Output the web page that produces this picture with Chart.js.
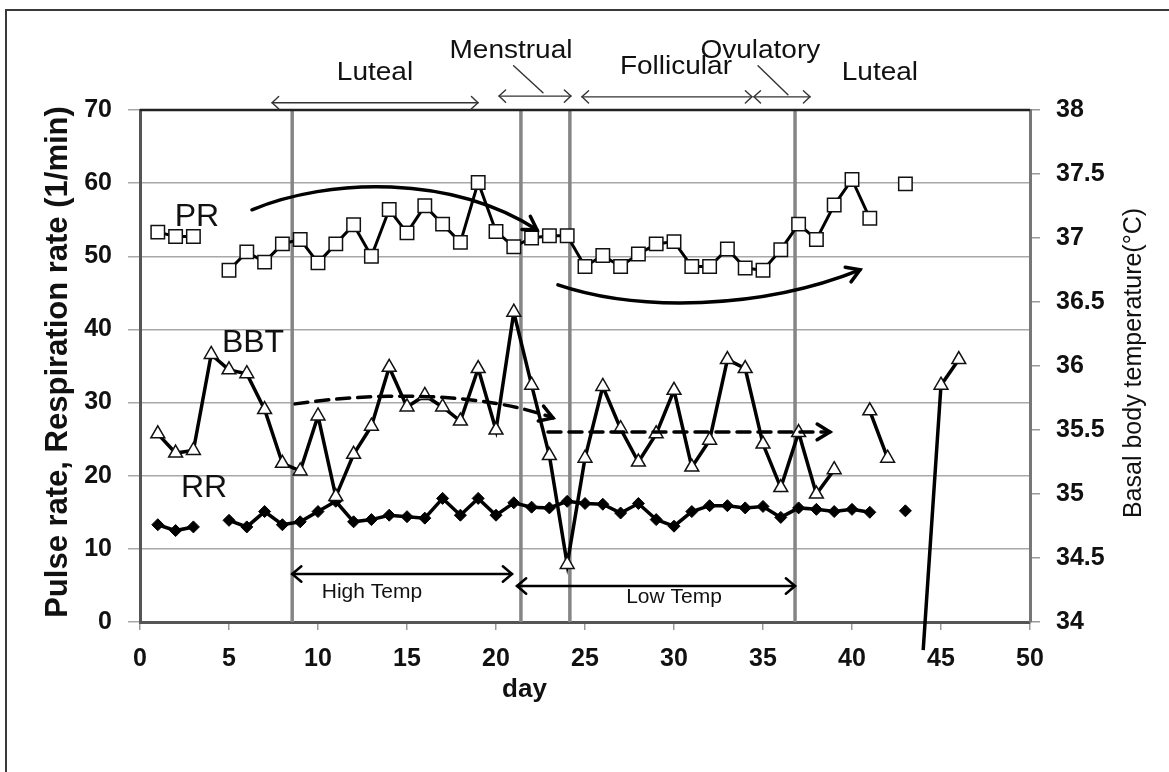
<!DOCTYPE html>
<html>
<head>
<meta charset="utf-8">
<script src="https://cdn.jsdelivr.net/npm/chart.js@4.4.1/dist/chart.umd.min.js"></script>
<style>
  html, body { margin: 0; padding: 0; background: #fff; overflow: hidden; }
  #wrap { position: relative; width: 1169px; height: 772px; }
  #frame { position: absolute; left: 5px; top: 9px; width: 1220px; height: 820px; border: 2px solid #3a3a3a; box-sizing: border-box; }
  canvas { position: absolute; left: 0; top: 0; }
</style>
</head>
<body>
<div id="wrap">
  <div id="frame"></div>
  <canvas id="chart" width="1169" height="772"></canvas>
</div>
<script>
// ---- data ----
const days = [1, 2, 3, 4, 5, 6, 7, 8, 9, 10, 11, 12, 13, 14, 15, 16, 17, 18, 19, 20, 21, 22, 23,
  24, 25, 26, 27, 28, 29, 30, 31, 32, 33, 34, 35, 36, 37, 38, 39, 40, 41, 42, 43, 44, 45, 46];

// pulse rate (1/min), left axis
const prRate = [53.3, 52.7, 52.7, null, 48.1, 50.6, 49.2, 51.7, 52.3, 49.1, 51.7, 54.3, 50.0, 56.4,
  53.2, 56.9, 54.4, 51.9, 60.1, 53.4, 51.3, 52.5, 52.8, 52.8, 48.6, 50.1, 48.6, 50.3, 51.7, 52.0,
  48.6, 48.6, 51.0, 48.4, 48.1, 50.9, 54.4, 52.3, 57.0, 60.5, 55.2, null, 59.9, null, null, null];

// basal body temperature (deg C), right axis
const bbtTemp = [35.47, 35.32, 35.34, 36.09, 35.97, 35.94, 35.66, 35.24, 35.18, 35.61, 34.98, 35.31,
  35.53, 35.99, 35.68, 35.77, 35.68, 35.57, 35.98, 35.50, 36.42, 35.85, 35.30, 34.45, 35.28, 35.84,
  35.51, 35.25, 35.47, 35.81, 35.21, 35.42, 36.05, 35.98, 35.39, 35.05, 35.48, 35.00, 35.19, null,
  35.65, 35.28, null, 33.78, 35.85, 36.05];

// respiration rate (1/min), left axis
const rrRate = [13.3, 12.5, 13.0, null, 13.9, 13.0, 15.1, 13.3, 13.7, 15.1, 16.5, 13.7, 14.0, 14.6,
  14.4, 14.2, 16.9, 14.6, 16.9, 14.6, 16.3, 15.7, 15.6, 16.5, 16.2, 16.1, 14.9, 16.2, 14.0, 13.1,
  15.1, 15.9, 15.9, 15.6, 15.8, 14.3, 15.6, 15.4, 15.1, 15.4, 15.0, null, 15.2, null, null, null];

const xTicks = [0, 50, 5];        // min, max, step
const leftTicks = [0, 70, 10];
const rightTicks = [34, 38, 0.5];

// ---- annotations (day, left-axis value) ----
const phaseLines = [8.55, 21.4, 24.15, 36.8];
const phaseNames = ['Luteal', 'Menstrual', 'Follicular', 'Ovulatory', 'Luteal'];
const phaseNamePos = [[13.2, 75.1], [20.84, 78.1], [30.11, 75.8], [34.85, 78.0], [41.57, 75.1]];
const phaseSpans = [[7.42, 18.99, 71.0], [20.17, 24.21, 71.9], [24.83, 34.38, 71.8], [34.49, 37.64, 71.8]];
const phaseLeaders = [[20.99, 76.06, 22.64, 72.37], [34.72, 76.06, 36.40, 72.09]];
const tempSpans = [['High Temp', 8.55, 20.9, 6.57, 13.03, 4.1], ['Low Temp', 21.18, 36.8, 4.92, 30.0, 3.42]];
const seriesNames = [['PR', 3.2, 55.4], ['BBT', 6.35, 38.1], ['RR', 3.6, 18.3]];
const prArrowUp = [[6.29, 56.36], [10.67, 60.74], [17.42, 61.15], [22.3, 53.63]];
const prArrowDown = [[23.48, 46.1], [27.98, 42.41], [34.83, 42.68], [40.45, 48.15]];
const bbtArrowCurve = [[8.71, 29.82], [13.48, 31.46], [19.1, 31.46], [23.2, 27.91]];
const bbtArrowFlat = [22.92, 38.76, 25.99];

const pts = vals => days.map((d, i) => ({ x: d, y: vals[i] }));

function head(ctx, x, y, ang, len, spread) {
  ctx.beginPath();
  ctx.moveTo(x - len * Math.cos(ang - spread), y - len * Math.sin(ang - spread));
  ctx.lineTo(x, y);
  ctx.lineTo(x - len * Math.cos(ang + spread), y - len * Math.sin(ang + spread));
  ctx.stroke();
}

function text(ctx, s, x, y, font, sx, rot) {
  ctx.save();
  ctx.translate(x, y);
  if (rot) ctx.rotate(rot);
  ctx.scale(sx || 1, 1);
  ctx.font = font;
  ctx.textAlign = 'center';
  ctx.textBaseline = 'middle';
  ctx.fillText(s, 0, 0);
  ctx.restore();
}

const decor = {
  id: 'decor',
  beforeDatasetsDraw(chart) {
    const { ctx, chartArea: a, scales } = chart;
    const X = v => scales.x.getPixelForValue(v);
    ctx.save();
    ctx.strokeStyle = '#858585';
    ctx.lineWidth = 3.5;
    phaseLines.forEach(d => {
      ctx.beginPath();
      ctx.moveTo(X(d), a.top);
      ctx.lineTo(X(d), a.bottom);
      ctx.stroke();
    });
    ctx.strokeStyle = '#222';
    ctx.lineWidth = 2.5;
    ctx.beginPath();
    ctx.moveTo(a.left, a.top);
    ctx.lineTo(a.right, a.top);
    ctx.stroke();
    ctx.restore();
  },
  afterDatasetsDraw(chart) {
    const { ctx, chartArea: a, scales } = chart;
    const X = v => scales.x.getPixelForValue(v);
    const Y = v => scales.y.getPixelForValue(v);
    ctx.save();
    ctx.fillStyle = '#111';
    ctx.strokeStyle = '#000';
    ctx.lineCap = 'round';

    // phase spans above the plot
    ctx.strokeStyle = '#333';
    ctx.lineWidth = 1.4;
    phaseSpans.forEach(([d0, d1, v]) => {
      const x0 = X(d0), x1 = X(d1), y = Y(v);
      ctx.beginPath(); ctx.moveTo(x0, y); ctx.lineTo(x1, y); ctx.stroke();
      head(ctx, x1, y, 0, 9, 0.75);
      head(ctx, x0, y, Math.PI, 9, 0.75);
    });
    phaseLeaders.forEach(([d0, v0, d1, v1]) => {
      ctx.beginPath(); ctx.moveTo(X(d0), Y(v0)); ctx.lineTo(X(d1), Y(v1)); ctx.stroke();
    });
    phaseNames.forEach((n, i) => {
      text(ctx, n, X(phaseNamePos[i][0]), Y(phaseNamePos[i][1]), '25px "Liberation Sans"', 1.12);
    });

    // high / low temperature spans
    ctx.strokeStyle = '#000';
    ctx.lineWidth = 2.5;
    tempSpans.forEach(([n, d0, d1, v, td, tv]) => {
      const x0 = X(d0), x1 = X(d1), y = Y(v);
      ctx.beginPath(); ctx.moveTo(x0, y); ctx.lineTo(x1, y); ctx.stroke();
      head(ctx, x1, y, 0, 12, 0.7);
      head(ctx, x0, y, Math.PI, 12, 0.7);
      text(ctx, n, X(td), Y(tv), '21px "Liberation Sans"', 1);
    });

    // series names
    seriesNames.forEach(([n, d, v]) => text(ctx, n, X(d), Y(v), '32px "Liberation Sans"', 1));

    // trend arrows
    const curve = (p, dash) => {
      ctx.setLineDash(dash);
      ctx.beginPath();
      ctx.moveTo(X(p[0][0]), Y(p[0][1]));
      ctx.bezierCurveTo(X(p[1][0]), Y(p[1][1]), X(p[2][0]), Y(p[2][1]), X(p[3][0]), Y(p[3][1]));
      ctx.stroke();
      ctx.setLineDash([]);
      const ex = X(p[3][0]), ey = Y(p[3][1]);
      head(ctx, ex, ey, Math.atan2(ey - Y(p[2][1]), ex - X(p[2][0])), 15, 0.55);
    };
    ctx.lineWidth = 3.5;
    curve(prArrowUp, []);
    curve(prArrowDown, []);
    curve(bbtArrowCurve, [13, 8]);
    const [f0, f1, fv] = bbtArrowFlat;
    ctx.setLineDash([13, 8]);
    ctx.beginPath(); ctx.moveTo(X(f0), Y(fv)); ctx.lineTo(X(f1), Y(fv)); ctx.stroke();
    ctx.setLineDash([]);
    head(ctx, X(f1), Y(fv), 0, 15, 0.55);

    // axis titles
    const cy = (a.top + a.bottom) / 2;
    text(ctx, 'Pulse rate, Respiration rate (1/min)', 58, cy - 4, 'bold 31px "Liberation Sans"', 1, -Math.PI / 2);
    text(ctx, 'Basal body temperature(\u00b0C)', 1134, cy - 3, '25px "Liberation Sans"', 1, -Math.PI / 2);
    text(ctx, 'day', X(21.6), 690, 'bold 26px "Liberation Sans"', 1);
    ctx.restore();
  }
};

const tickFont = { family: 'Liberation Sans', weight: 'bold', size: 25 };

new Chart(document.getElementById('chart'), {
  type: 'line',
  data: {
    datasets: [
      {
        label: 'PR', data: pts(prRate), yAxisID: 'y',
        borderColor: '#000', borderWidth: 3, tension: 0, spanGaps: false,
        pointStyle: 'rect', pointRadius: 9.5, pointBackgroundColor: '#fff',
        pointBorderColor: '#111', pointBorderWidth: 1.5
      },
      {
        label: 'BBT', data: pts(bbtTemp), yAxisID: 'y1', clip: false,
        borderColor: '#000', borderWidth: 3.5, tension: 0, spanGaps: false,
        pointStyle: 'triangle',
        pointRadius: c => (c.raw && c.raw.y < rightTicks[0]) ? 0 : 8,
        pointBackgroundColor: '#fff', pointBorderColor: '#111', pointBorderWidth: 1.5
      },
      {
        label: 'RR', data: pts(rrRate), yAxisID: 'y',
        borderColor: '#000', borderWidth: 3.5, tension: 0, spanGaps: false,
        pointStyle: 'rectRot', pointRadius: 6, pointBackgroundColor: '#000',
        pointBorderColor: '#000', pointBorderWidth: 1
      }
    ]
  },
  options: {
    responsive: false,
    animation: false,
    devicePixelRatio: 1,
    layout: { padding: { top: 110, bottom: 70, left: 0, right: 0 } },
    plugins: { legend: { display: false }, tooltip: { enabled: false } },
    scales: {
      x: {
        type: 'linear', min: xTicks[0], max: xTicks[1],
        ticks: { stepSize: xTicks[2], font: tickFont, color: '#111', padding: 14 },
        grid: { drawOnChartArea: false, tickLength: 8, color: '#999', lineWidth: 1.5 },
        border: { color: '#555', width: 3 },
        afterFit(s) { s.height = 80; }
      },
      y: {
        position: 'left', min: leftTicks[0], max: leftTicks[1],
        ticks: { stepSize: leftTicks[2], font: tickFont, color: '#111', padding: 16 },
        grid: { color: '#a8a8a8', lineWidth: 1.5, tickLength: 12 },
        border: { color: '#555', width: 3 },
        afterFit(s) { s.width = 140; }
      },
      y1: {
        position: 'right', min: rightTicks[0], max: rightTicks[1],
        ticks: { stepSize: rightTicks[2], font: tickFont, color: '#111', padding: 16, callback: v => String(v) },
        grid: { drawOnChartArea: false, tickLength: 10, color: '#999', lineWidth: 1.5 },
        border: { color: '#777', width: 3 },
        afterFit(s) { s.width = 139; }
      }
    }
  },
  plugins: [decor]
});
</script>
</body>
</html>
